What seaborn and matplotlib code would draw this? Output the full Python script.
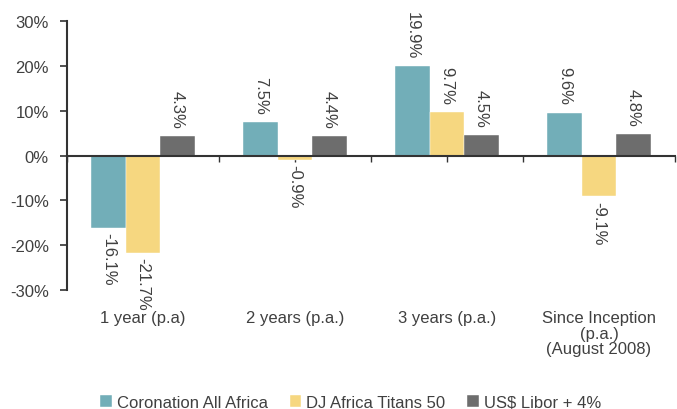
import numpy as np
import pandas as pd
import seaborn as sns
import matplotlib.pyplot as plt
import matplotlib.transforms as mtransforms

sns.set_theme(style='white')
plt.rcParams['font.family'] = ['Liberation Sans', 'DejaVu Sans']

# data
periods = ['1 year (p.a)', '2 years (p.a.)', '3 years (p.a.)',
           'Since Inception\n(p.a.)\n(August 2008)']
series = ['Coronation All Africa', 'DJ Africa Titans 50', 'US$ Libor + 4%']
coronation = [-16.1, 7.5, 19.9, 9.6]
dj_titans = [-21.7, -0.9, 9.7, -9.1]
libor = [4.3, 4.4, 4.5, 4.8]
colors = ['#72AEB8', '#F6D780', '#6D6D6D']
txt = '#404040'
fs = 12

df = pd.DataFrame({
    'period': periods * 3,
    'series': np.repeat(series, len(periods)),
    'value': coronation + dj_titans + libor,
})

fig = plt.figure(figsize=(6.77, 4.10), dpi=100)
ax = fig.add_axes([0.099, 0.290, 0.898, 0.656])

sns.barplot(data=df, x='period', y='value', hue='series', palette=colors,
            width=0.68, gap=0, ax=ax, legend=True, saturation=1,
            edgecolor='white', linewidth=0.3)

ax.set_ylim(-30, 30)
ax.set_xlim(-0.5, 3.5)
ax.set_yticks(np.arange(-30, 31, 10))
ax.set_yticklabels(['{:d}%'.format(v) for v in range(-30, 31, 10)], color=txt, fontsize=fs)
ax.set_xlabel('')
ax.set_ylabel('')

# value labels
for cont in ax.containers:
    for bar in cont:
        h = bar.get_height()
        xc = bar.get_x() + bar.get_width() / 2
        if h >= 0:
            ax.annotate('{:.1f}%'.format(h), (xc, h), xytext=(0, 6), textcoords='offset points',
                        rotation=-90, ha='center', va='bottom', color=txt, fontsize=fs)
        else:
            ax.annotate('{:.1f}%'.format(h), (xc, h), xytext=(0, -3), textcoords='offset points',
                        rotation=-90, ha='center', va='top', color=txt, fontsize=fs)

# axes styling
for s in ['top', 'right']:
    ax.spines[s].set_visible(False)
ax.spines['left'].set_color('#333333')
ax.spines['left'].set_linewidth(1.5)
ax.spines['bottom'].set_position(('data', 0))
ax.spines['bottom'].set_color('#333333')
ax.spines['bottom'].set_linewidth(1.5)
ax.set_xticks(np.arange(-0.5, 3.51, 0.5))
ax.set_xticklabels([])
ax.tick_params(axis='x', which='major', bottom=True, direction='out', length=4, color='#333333', width=1)
ax.tick_params(axis='y', left=True, direction='out', length=5, color='#333333', width=1.2, pad=8)

trans = mtransforms.blended_transform_factory(ax.transData, ax.transAxes)
for i, p in enumerate(periods):
    ax.text(i, -0.075, p, transform=trans, ha='center', va='top', color=txt,
            fontsize=fs, linespacing=1.05)

handles, labels = ax.get_legend_handles_labels()
ax.legend_.remove()
fig.legend(handles, labels, loc='lower center', bbox_to_anchor=(0.518, -0.038), ncol=3,
           frameon=False, fontsize=fs, handlelength=0.7, handleheight=0.7,
           handletextpad=0.3, columnspacing=1.3, labelcolor=txt)

fig.savefig('out.png', dpi=100)
